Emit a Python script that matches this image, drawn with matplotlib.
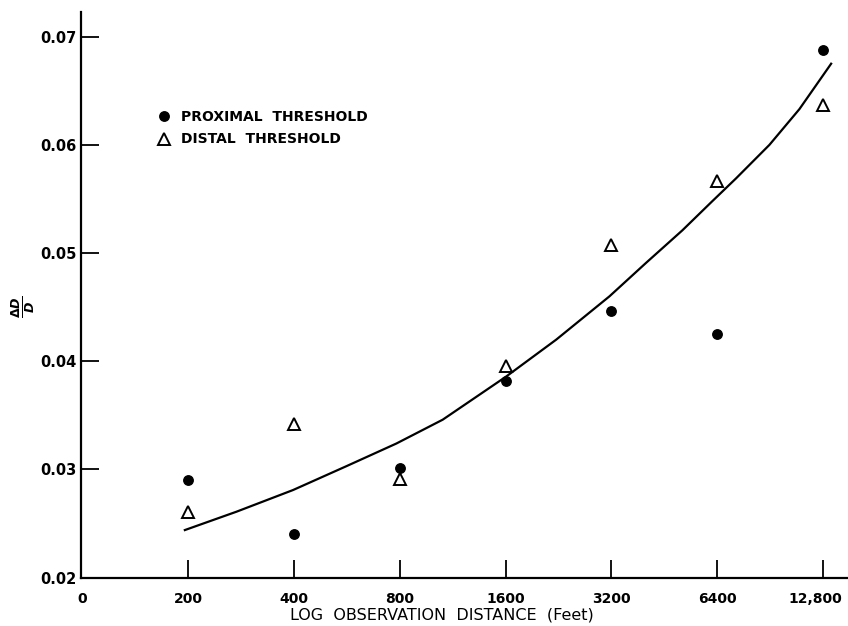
import matplotlib
matplotlib.use("Agg")
import matplotlib.pyplot as plt
import matplotlib.transforms as mtransforms
from matplotlib.ticker import FixedLocator, FixedFormatter, NullLocator

# ------------------------------------------------------------
# Data
# ------------------------------------------------------------
distances = [200, 400, 800, 1600, 3200, 6400, 12800]
proximal = [0.0290, 0.0240, 0.0301, 0.0382, 0.0446, 0.0425, 0.0688]
distal = [0.0261, 0.0342, 0.0291, 0.0396, 0.0507, 0.0567, 0.0637]

# fitted curve, traced point by point
curve_x = [196, 275, 398, 564, 783, 1060, 1608, 2229, 3158, 4015,
           5090, 6195, 7232, 9000, 10950, 13480]
curve_y = [0.0244, 0.0261, 0.0281, 0.0303, 0.0324, 0.0346, 0.0386, 0.0420,
           0.0460, 0.0491, 0.0521, 0.0548, 0.0569, 0.0600, 0.0633, 0.0675]

tick_pos = [100] + distances
tick_labels = ["0", "200", "400", "800", "1600", "3200", "6400", "12,800"]
y_ticks = [0.02, 0.03, 0.04, 0.05, 0.06, 0.07]

plt.rcParams["font.family"] = ["DejaVu Sans"]
plt.rcParams["font.weight"] = "bold"

fig = plt.figure(figsize=(8.48, 6.26), dpi=100)
ax = fig.add_axes([0.0955, 0.0772, 0.9035, 0.904])

ax.set_xscale("log", base=2)
ax.set_xlim(99.3, 14970)
ax.set_ylim(0.02, 0.0723)

ax.plot(curve_x, curve_y, color="black", linewidth=1.6)
ax.plot(distances, proximal, linestyle="none", marker="o", markersize=6.8,
        color="black", label="PROXIMAL  THRESHOLD")
ax.plot(distances, distal, linestyle="none", marker="^", markersize=9,
        markerfacecolor="white", markeredgecolor="black", markeredgewidth=1.4,
        label="DISTAL  THRESHOLD")

# axes styling
for side in ("top", "right"):
    ax.spines[side].set_visible(False)
for side in ("left", "bottom"):
    ax.spines[side].set_linewidth(1.6)

ax.xaxis.set_major_locator(FixedLocator(tick_pos))
ax.xaxis.set_major_formatter(FixedFormatter(tick_labels))
ax.xaxis.set_minor_locator(NullLocator())
ax.set_yticks(y_ticks)
ax.set_yticklabels([f"{v:.2f}" for v in y_ticks])

ax.tick_params(axis="both", direction="in", length=13, width=1.3,
               labelsize=10.5)
ax.tick_params(axis="x", pad=10, labelsize=10)
ax.tick_params(axis="y", pad=3)
ax.get_xticklines()[0].set_visible(False)
ax.get_xticklines()[1].set_visible(False)

# pull the last label ("12,800") in a little so it stays on the canvas
last = ax.get_xticklabels()[-1]
shift = mtransforms.ScaledTranslation(-8 / 100, 0, fig.dpi_scale_trans)
last.set_transform(last.get_transform() + shift)

ax.set_xlabel("LOG  OBSERVATION  DISTANCE  (Feet)", fontsize=11.5)
ax.xaxis.set_label_coords(0.471, -0.052)

# y label: stacked fraction, drawn as figure text so it is not clipped
fig.text(23 / 848, 1 - 307 / 626, r"$\frac{\Delta D}{D}$", fontsize=13,
         rotation=90, ha="center", va="center")

ax.legend(loc="upper left", bbox_to_anchor=(0.092, 0.836), frameon=False,
          handlelength=1.0, handletextpad=0.7, labelspacing=0.6,
          fontsize=10, borderaxespad=0)

fig.savefig("out.png", dpi=100)
